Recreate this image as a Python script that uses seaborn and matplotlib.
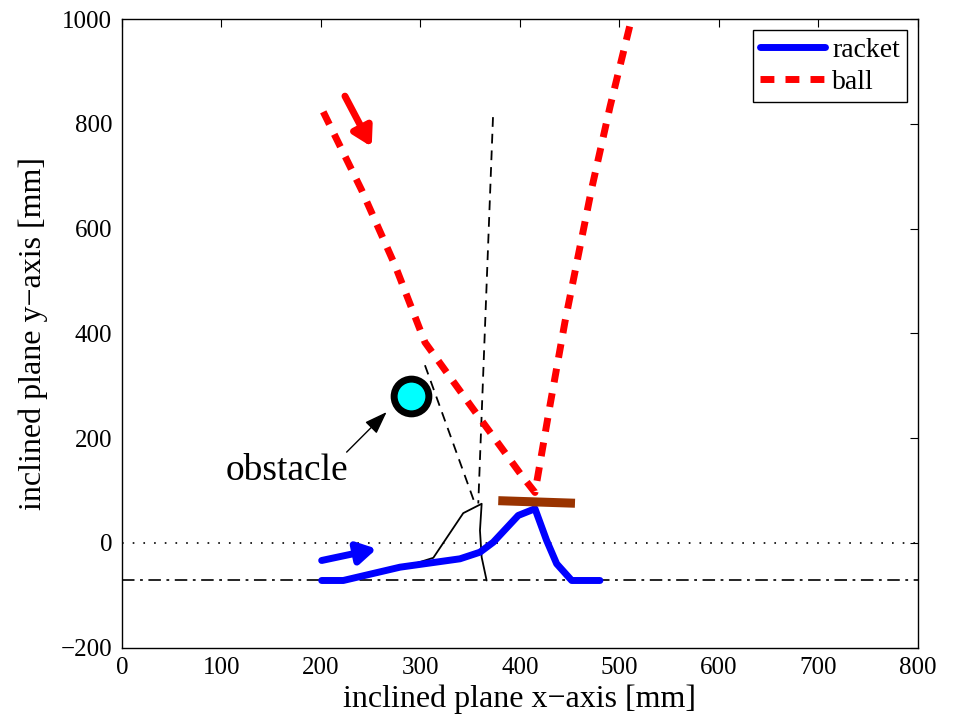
import matplotlib
matplotlib.use("Agg")
import matplotlib.pyplot as plt
import seaborn as sns
import pandas as pd

# racket trajectory on the inclined plane [mm]
racket_x = [200.7, 222.4, 279.4, 339.7, 359.8, 373.2, 398.3, 415.1, 426.8, 436.9, 452.0, 480.4]
racket_y = [-72.0, -72.0, -46.6, -30.6, -18.0, 1.1, 52.2, 65.0, 4.4, -40.1, -72.0, -72.0]

# ball trajectory [mm]
ball_x = [202.3, 240.9, 274.4, 304.5, 351.5, 401.7, 415.1, 430.2, 445.2, 472.1, 490.5, 510.6, 514.6]
ball_y = [822.8, 673.2, 529.9, 382.8, 259.1, 128.6, 96.1, 262.6, 421.5, 676.5, 832.4, 988.6, 1020.0]

# thin solid construction line
guide_x = [281.1, 312.9, 343.0, 361.5, 359.8, 361.5, 366.5]
guide_y = [-47.8, -28.7, 56.6, 74.5, 23.5, -27.5, -72.0]

# dashed construction lines
ray1_x = [372.9, 358.1]
ray1_y = [812.7, 75.0]
ray2_x = [304.5, 354.8]
ray2_y = [339.0, 74.5]

# reference levels
level_zero = 0.0
level_base = -72.0

# hitting plane of the racket
paddle_x = [378.2, 455.3]
paddle_y = [80.4, 75.5]

# obstacle position
obstacle_x = [290.0]
obstacle_y = [280.0]

# direction arrows: (tail, tip)
ball_arrow = ((224.1, 852.8), (251.0, 756.0))
racket_arrow = ((200.7, -33.8), (256.0, -11.5))
obstacle_arrow = ((225.8, 173.1), (266.0, 249.6))
obstacle_label_pos = (166.0, 138.0)

x_ticks = [0, 100, 200, 300, 400, 500, 600, 700, 800]
y_ticks = [-200, 0, 200, 400, 600, 800, 1000]

sns.set_style("white")
plt.rcParams["font.family"] = ["Liberation Serif", "DejaVu Serif"]
plt.rcParams["lines.scale_dashes"] = False
plt.rcParams["text.color"] = "black"
plt.rcParams["axes.labelcolor"] = "black"

fig = plt.figure(figsize=(9.62, 7.21), dpi=100)
ax = fig.add_axes([0.1268, 0.1019, 0.8274, 0.8717])

ax.axhline(level_zero, color="black", lw=1.2, ls=(0, (1.2, 6.5)), zorder=1)
ax.axhline(level_base, color="black", lw=1.2, ls=(0, (9, 4, 2, 4)), zorder=1)

sns.lineplot(x=ray1_x, y=ray1_y, sort=False, estimator=None, ax=ax,
             color="black", lw=1.3, linestyle=(0, (7, 5)), zorder=2)
sns.lineplot(x=ray2_x, y=ray2_y, sort=False, estimator=None, ax=ax,
             color="black", lw=1.3, linestyle=(0, (7, 5)), zorder=2)
sns.lineplot(x=guide_x, y=guide_y, sort=False, estimator=None, ax=ax,
             color="black", lw=1.3, zorder=2)

racket_df = pd.DataFrame({"x": racket_x, "y": racket_y})
ball_df = pd.DataFrame({"x": ball_x, "y": ball_y})
sns.lineplot(data=racket_df, x="x", y="y", sort=False, estimator=None, ax=ax,
             color="#0000ff", lw=5, zorder=3, solid_joinstyle="round")
sns.lineplot(data=ball_df, x="x", y="y", sort=False, estimator=None, ax=ax,
             color="#ff0000", lw=5, linestyle=(0, (10, 8)), zorder=3)

ax.plot(paddle_x, paddle_y, color="#993300", lw=6.5, solid_capstyle="butt", zorder=4)

ax.plot(obstacle_x, obstacle_y, marker="o", ms=25, mfc="#00ffff", mec="black",
        mew=5, ls="none", zorder=5)

def arrow(tail, tip, color, lw, head):
    ax.annotate("", xy=tip, xytext=tail,
                arrowprops=dict(arrowstyle=head, color=color, lw=lw,
                                shrinkA=0, shrinkB=0, mutation_scale=20),
                zorder=6)

arrow(ball_arrow[0], ball_arrow[1], "#ff0000", 5, "-|>,head_length=0.55,head_width=0.32")
arrow(racket_arrow[0], racket_arrow[1], "#0000ff", 5, "-|>,head_length=0.55,head_width=0.32")
arrow(obstacle_arrow[0], obstacle_arrow[1], "black", 1, "-|>,head_length=0.7,head_width=0.25")
ax.text(obstacle_label_pos[0], obstacle_label_pos[1], "obstacle", fontsize=27,
        ha="center", va="center")

ax.set_xlim(0, 800)
ax.set_ylim(-200, 1000)
ax.set_xticks(x_ticks)
ax.set_yticks(y_ticks)
ax.tick_params(direction="in", length=6, width=0.8, top=True, right=True,
               labelsize=18, pad=7, colors="black")
for s in ax.spines.values():
    s.set_visible(True)
    s.set_color("black")
    s.set_linewidth(1.0)

ax.set_xlabel("inclined plane x\u2212axis [mm]", fontsize=23, labelpad=4)
ax.set_ylabel("inclined plane y\u2212axis [mm]", fontsize=23, labelpad=9)

handles = [
    plt.Line2D([], [], color="#0000ff", lw=5),
    plt.Line2D([], [], color="#ff0000", lw=5, linestyle=(0, (10, 8))),
]
leg = ax.legend(handles, ["racket", "ball"], loc="upper right", fontsize=20,
                frameon=True, fancybox=False, framealpha=1, edgecolor="black",
                borderaxespad=0.4, handlelength=2.35, handletextpad=0.25,
                borderpad=0.25, labelspacing=0.25)
leg.get_frame().set_linewidth(1.0)

fig.savefig("out.png", dpi=100)
